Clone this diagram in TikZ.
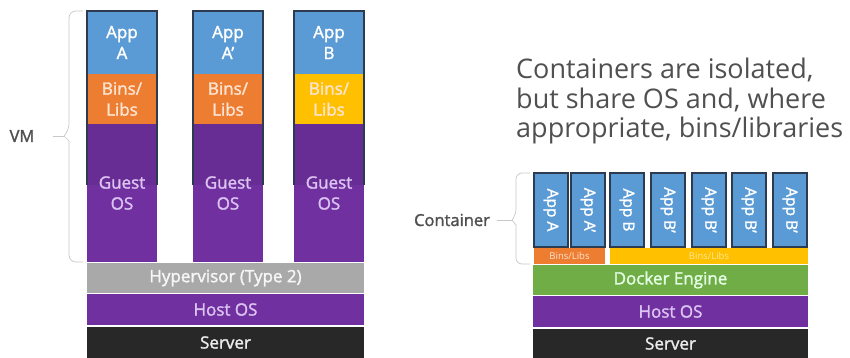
\documentclass[tikz,border=0pt]{standalone}
\usepackage{fontspec}
\setmainfont{Open Sans}
\newfontfamily\semib{Open Sans}[FakeBold=1.6]
\usetikzlibrary{positioning}

\definecolor{appblue}{HTML}{5B9BD5}
\definecolor{binorange}{HTML}{ED7D31}
\definecolor{binyellow}{HTML}{FFC000}
\definecolor{ospurple}{HTML}{7030A0}
\definecolor{hypgray}{HTML}{A9A9A9}
\definecolor{dockgreen}{HTML}{70AD47}
\definecolor{srvdark}{HTML}{282828}
\definecolor{framenavy}{HTML}{2C3B50}
\definecolor{labelgray}{HTML}{505050}
\definecolor{bracegray}{HTML}{C8C8C8}
\definecolor{oslabel}{HTML}{DCC4F2}
\definecolor{binlabel}{HTML}{FCE4D2}

\begin{document}
\begin{tikzpicture}[x=1pt,y=-1pt,
    box/.style={inner sep=0pt, outer sep=0pt, anchor=north west, align=center,
                font=\semib\fontsize{17}{21}\selectfont},
    appbox/.style={box, fill=appblue, text=white},
    binbox/.style={box, text=binlabel},
    guestbox/.style={box, fill=ospurple, text=oslabel},
    frame/.style={draw=framenavy, line width=1.6pt},
    bracket/.style={draw=bracegray, line width=0.7pt},
    sidelabel/.style={text=labelgray, font=\semib\fontsize{16.5}{18}\selectfont},
    heading/.style={anchor=north west, align=left, text=labelgray, inner sep=0pt,
                    font=\fontsize{27}{29.5}\selectfont}]
  \fill[white] (0,0) rectangle (850,358);
  \useasboundingbox (0,0) rectangle (850,358);

  % virtual machines
  \foreach \name/\x/\app/\bincol in {a/87/{App\\A}/binorange,
                                     ap/193/{App\\A’}/binorange,
                                     b/294/{App\\B}/binyellow}{
    \node[appbox, minimum width=70pt, minimum height=63pt] (app\name) at (\x,11) {\app};
    \node[binbox, fill=\bincol, minimum width=70pt, minimum height=50pt] (bins\name) at (\x,74) {Bins/\\Libs};
    \node[guestbox, minimum width=70pt, minimum height=138pt] (guest\name) at (\x,124) {};
    \fill[ospurple!93!black] (\x,124) rectangle (\x+70,185);
    \node[box, anchor=center, text=oslabel] (guestl\name) at (guest\name.center) {Guest\\OS};
    \draw[frame] (\x,185) |- (\x+70,11) -- (\x+70,185);
  }
  \node[box, fill=hypgray, text=white!94!gray, minimum width=277pt, minimum height=30pt] (hyper) at (87,263) {Hypervisor (Type 2)};
  \node[box, fill=ospurple, text=oslabel, minimum width=277pt, minimum height=31pt] (hostl) at (87,294) {Host OS};
  \node[box, fill=srvdark, text=white!85!gray, minimum width=277pt, minimum height=31pt] (serverl) at (87,327) {Server};

  \node[sidelabel] (vm) at (22,136) {VM};
  \coordinate (vmtip) at (64,136);
  \draw[bracket] (83,11) [rounded corners=7pt] -| (69,131) [sharp corners] -- (vmtip) -- (69,141)
    [rounded corners=7pt] |- (83,262);
  \draw[bracket] ([xshift=15pt]vm.east) -- (vmtip);

  % containers
  \node[heading] (claim) at (516,58) {Containers are isolated,\\but share OS and, where\\appropriate, bins/libraries};

  \foreach \name/\x/\lbl in {a/534/App A, ap/571/App A’, b/610/App B, bp/651/App B’,
                             bq/692/App B’, br/732/App B’, bs/773/App B’}{
    \node[appbox, minimum width=34pt, minimum height=74pt] (ct\name) at (\x,173) {};
    \node[rotate=-90, text=white, inner sep=0pt, font=\semib\fontsize{15.5}{16}\selectfont] (ctl\name) at (ct\name.center) {\lbl};
    \draw[frame] (ct\name.north west) rectangle (ct\name.south east);
  }
  \node[binbox, fill=binorange, minimum width=71pt, minimum height=16pt, font=\fontsize{9.5}{10}\selectfont] (binsr1) at (534,248) {Bins/Libs};
  \node[binbox, fill=binyellow, text=binyellow!40!white, minimum width=198pt, minimum height=16pt, font=\fontsize{9.5}{10}\selectfont] (binsr2) at (610,248) {Bins/Libs};
  \node[box, fill=dockgreen, text=green!10!white, minimum width=275pt, minimum height=30pt] (docker) at (533,265) {Docker Engine};
  \node[box, fill=ospurple, text=oslabel, minimum width=275pt, minimum height=31pt] (hostr) at (533,296) {Host OS};
  \node[box, fill=srvdark, text=white!85!gray, minimum width=275pt, minimum height=29pt] (serverr) at (533,329) {Server};

  \node[sidelabel] (ctn) at (452,220) {Container};
  \coordinate (ctntip) at (512,220);
  \draw[bracket] (530,173) [rounded corners=6pt] -| (516,215) [sharp corners] -- (ctntip) -- (516,225)
    [rounded corners=6pt] |- (530,264);
  \draw[bracket] ([xshift=4pt]ctn.east) -- (ctntip);
\end{tikzpicture}
\end{document}
